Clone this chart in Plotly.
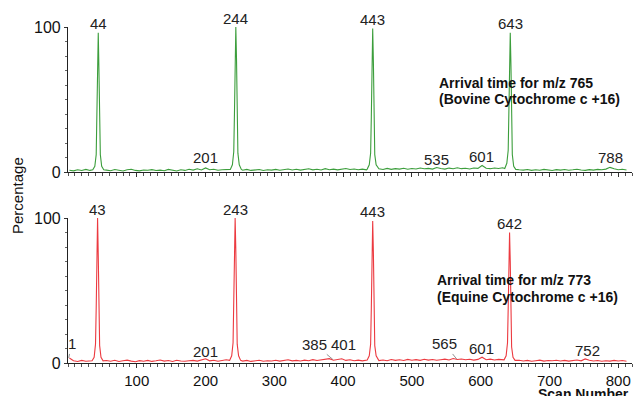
import plotly.graph_objects as go

# ---------------- data ----------------
GRID_START = 2
GRID_STEP = 6

# baseline readings (every 6 scans, starting at scan 2) - bovine, m/z 765
noise_top = [
    1.2, 0.8, 1.5, 1.0, 1.8, 1.1, 1.4, 1.0, 1.6, 1.3,
    0.9, 1.7, 1.2, 0.7, 1.5, 1.9, 1.1, 0.8, 1.4, 1.2,
    1.6, 1.0, 1.3, 0.9, 1.8, 1.2, 0.7, 1.5, 1.1, 1.9,
    1.3, 2.2, 1.4, 2.8, 1.6, 1.9, 1.2, 1.5, 1.8, 2.4,
    2.0, 1.5, 1.2, 1.8, 1.1, 1.4, 1.7, 1.0, 1.5, 1.3,
    1.8, 1.2, 1.6, 2.1, 1.4, 1.9, 1.3, 1.7, 2.2, 1.5,
    1.9, 1.4, 2.3, 1.6, 2.0, 1.5, 1.8, 2.4, 1.7, 2.1,
    1.6, 2.0, 1.5, 1.9, 1.4, 2.2, 1.7, 2.5, 1.8, 2.3,
    2.0, 2.6, 1.9, 2.4, 2.1, 2.8, 2.2, 2.5, 2.0, 3.1,
    2.4, 2.0, 2.7, 2.2, 2.9, 2.3, 2.6, 2.1, 2.8, 2.5,
    4.5, 2.6, 2.3, 2.8, 2.4, 2.9, 2.2, 2.6, 1.9, 1.5,
    1.3, 1.7, 1.1, 1.5, 1.2, 1.8, 1.4, 1.0, 1.6, 1.3,
    1.7, 1.2, 1.5, 1.9, 1.4, 1.1, 1.6, 1.3, 1.8, 1.5,
    2.0, 3.2, 2.2, 1.6, 1.9, 1.4,
]

# baseline readings - equine, m/z 773
noise_bottom = [
    3.5, 1.6, 1.0, 1.8, 1.2, 1.5, 0.9, 1.4, 1.1, 1.7,
    1.2, 1.9, 1.0, 1.5, 2.0, 1.3, 0.9, 1.6, 1.2, 1.8,
    1.1, 1.5, 2.1, 1.3, 1.7, 1.0, 1.9, 1.4, 1.2, 1.6,
    1.8, 1.3, 2.0, 2.9, 1.5, 1.9, 1.2, 1.7, 2.2, 2.6,
    2.0, 1.6, 1.3, 1.8, 1.1, 1.5, 1.9, 1.2, 1.6, 1.4,
    1.9, 1.3, 1.7, 2.2, 1.5, 1.8, 1.4, 2.0, 1.6, 2.3,
    1.7, 2.1, 2.6, 3.0, 1.9, 2.4, 2.9, 1.8, 2.2, 1.6,
    2.0, 1.5, 1.9, 1.4, 2.3, 1.7, 2.1, 1.6, 2.4, 1.8,
    2.2, 1.7, 2.5, 1.9, 2.3, 1.8, 2.6, 2.0, 2.4, 1.9,
    2.3, 2.7, 2.1, 3.1, 2.4, 2.8, 2.2, 2.6, 2.0, 2.5,
    4.0, 2.3, 2.7, 2.1, 2.5, 2.0, 2.4, 1.8, 1.5, 1.9,
    1.4, 1.8, 1.2, 1.6, 2.0, 1.3, 1.7, 1.5, 1.9, 1.4,
    1.8, 1.3, 1.6, 2.1, 1.5, 2.8, 1.9, 1.4, 1.7, 1.2,
    1.6, 1.3, 1.8, 1.4, 1.7, 1.2,
]

# arrival-time peaks (scan, percentage) - bovine
top_peaks_x = [
    [36, 39, 41, 42, 43, 44, 45, 46, 47, 49, 52],
    [236, 239, 241, 242, 243, 244, 245, 246, 247, 249, 252],
    [435, 438, 440, 441, 442, 443, 444, 445, 446, 448, 451],
    [635, 638, 640, 641, 642, 643, 644, 645, 646, 648, 651],
]
top_peaks_y = [
    [1.5, 4, 12, 35, 75, 96, 70, 32, 12, 4, 1.6],
    [1.8, 5, 14, 40, 82, 100, 78, 36, 13, 5, 1.8],
    [2.0, 5, 13, 38, 80, 99, 76, 34, 12, 5, 2.0],
    [2.4, 6, 15, 40, 78, 96, 74, 33, 12, 4, 1.8],
]
# arrival-time peaks - equine
bottom_peaks_x = [
    [35, 38, 40, 41, 42, 43, 44, 45, 46, 48, 51],
    [235, 238, 240, 241, 242, 243, 244, 245, 246, 248, 251],
    [435, 438, 440, 441, 442, 443, 444, 445, 446, 448, 451],
    [634, 637, 639, 640, 641, 642, 643, 644, 645, 647, 650],
]
bottom_peaks_y = [
    [1.6, 4, 13, 38, 80, 100, 74, 34, 12, 4, 1.5],
    [1.8, 5, 14, 40, 82, 100, 78, 36, 13, 5, 1.8],
    [2.0, 5, 13, 38, 80, 98, 76, 34, 12, 5, 2.0],
    [2.2, 5, 14, 38, 74, 90, 70, 30, 11, 4, 1.8],
]

top_major_labels = ["44", "244", "443", "643"]
bottom_major_labels = ["43", "243", "443", "642"]
top_minor_labels = ["201", "535", "601", "788"]
bottom_minor_labels = ["1", "201", "385", "401", "565", "601", "752"]

x_tick_vals = [100, 200, 300, 400, 500, 600, 700, 800]
y_tick_vals = [0, 100]

top_caption = ["Arrival time for m/z 765", "(Bovine Cytochrome c +16)"]
bottom_caption = ["Arrival time for m/z 773", "(Equine Cytochrome c +16)"]
x_title = "Scan Number"
y_title = "Percentage"


def build(noise, px_list, py_list):
    pts = [(GRID_START + GRID_STEP * i, v) for i, v in enumerate(noise)]
    for px, py in zip(px_list, py_list):
        lo, hi = px[0], px[-1]
        pts = [p for p in pts if not (lo <= p[0] <= hi)]
        pts += list(zip(px, py))
    pts.sort()
    return [p[0] for p in pts], [p[1] for p in pts]


tx, ty = build(noise_top, top_peaks_x, top_peaks_y)
bx, by = build(noise_bottom, bottom_peaks_x, bottom_peaks_y)

GREEN = "#3c9e3c"
RED = "#ec3a40"
FONT = "Arial, Liberation Sans, sans-serif"

fig = go.Figure()
fig.add_trace(go.Scatter(x=tx, y=ty, mode="lines", line=dict(color=GREEN, width=1.1),
                         xaxis="x2", yaxis="y2", hoverinfo="skip"))
fig.add_trace(go.Scatter(x=bx, y=by, mode="lines", line=dict(color=RED, width=1.1),
                         xaxis="x", yaxis="y", hoverinfo="skip"))

ann = []
lab_font = dict(family=FONT, size=15, color="#222")

# major peak labels
for labels, pxs, pys, xr, yr in [
    (top_major_labels, top_peaks_x, top_peaks_y, "x2", "y2"),
    (bottom_major_labels, bottom_peaks_x, bottom_peaks_y, "x", "y"),
]:
    for lab, px, py in zip(labels, pxs, pys):
        ann.append(dict(x=float(lab), y=max(py), xref=xr, yref=yr, text=lab,
                        showarrow=False, yanchor="middle", yshift=9, font=lab_font))

# minor labels: (xshift, yshift) or arrow offsets (ax, ay, tip value)
minor_style_top = {"201": (-1, 15), "535": (1, 13), "601": (0, 16), "788": (1, 15)}
minor_style_bottom = {"201": (-1, 12), "401": (0, 19), "601": (0, 15), "752": (2, 13)}
arrow_style_bottom = {"1": (3, -14, 3.5), "385": (-18, -15, 2.5), "565": (-12, -15, 2.8)}

for lab in top_minor_labels:
    xs, ys = minor_style_top[lab]
    ann.append(dict(x=float(lab), y=0, xref="x2", yref="y2", text=lab, showarrow=False,
                    yanchor="middle", xshift=xs, yshift=ys, font=lab_font))
for lab in bottom_minor_labels:
    if lab in arrow_style_bottom:
        ax, ay, tip = arrow_style_bottom[lab]
        ann.append(dict(x=float(lab), y=tip, xref="x", yref="y", text=lab, showarrow=True,
                        ax=ax, ay=ay, arrowhead=0, arrowwidth=0.8, arrowcolor="#777",
                        standoff=0, startstandoff=0, font=lab_font))
    else:
        xs, ys = minor_style_bottom[lab]
        ann.append(dict(x=float(lab), y=0, xref="x", yref="y", text=lab, showarrow=False,
                        yanchor="middle", xshift=xs, yshift=ys, font=lab_font))

cap_font = dict(family=FONT, size=14, color="#111")
L, T, B = 68, 27, 33
W, H = 636, 396
PH = H - T - B
PW = W - L - 4


def px_to_paper_x(p):
    return (p - L) / PW


def py_to_paper_y(p):
    return (H - B - p) / PH


for txt, yc in zip(top_caption, [83, 99]):
    ann.append(dict(x=px_to_paper_x(437), y=py_to_paper_y(yc), xref="paper", yref="paper",
                    text="<b>%s</b>" % txt, showarrow=False, xanchor="left",
                    yanchor="middle", font=cap_font))
for txt, yc in zip(bottom_caption, [280, 297]):
    ann.append(dict(x=px_to_paper_x(435), y=py_to_paper_y(yc), xref="paper", yref="paper",
                    text="<b>%s</b>" % txt, showarrow=False, xanchor="left",
                    yanchor="middle", font=cap_font))

ann.append(dict(x=px_to_paper_x(631), y=py_to_paper_y(394), xref="paper", yref="paper",
                text="<b>%s</b>" % x_title, showarrow=False, xanchor="right",
                yanchor="middle", font=dict(family=FONT, size=14, color="#111")))
ann.append(dict(x=px_to_paper_x(17), y=py_to_paper_y(196), xref="paper", yref="paper",
                text=y_title, showarrow=False, textangle=-90, xanchor="center",
                yanchor="middle", font=dict(family=FONT, size=15, color="#111")))

top_dom = [py_to_paper_y(172), 1.0]
bot_dom = [0.0, py_to_paper_y(218)]

xcommon = dict(range=[0, 820], showgrid=False, zeroline=False, showline=True,
               linecolor="#222", linewidth=1.2, ticks="outside", ticklen=4, tickwidth=1,
               tickcolor="#333", tickvals=x_tick_vals,
               minor=dict(ticks="outside", ticklen=2.5, dtick=10, tick0=0, tickcolor="#555"))
ycommon = dict(range=[0, 100], showgrid=False, zeroline=False, showline=True,
               linecolor="#222", linewidth=1.2, ticks="outside", ticklen=3,
               tickcolor="#333", tickvals=y_tick_vals,
               tickfont=dict(family=FONT, size=16, color="#111"),
               minor=dict(ticks="outside", ticklen=2, dtick=10, tick0=0, tickcolor="#666"))

fig.update_layout(
    width=W, height=H,
    margin=dict(l=L, r=4, t=T, b=B),
    paper_bgcolor="white", plot_bgcolor="white",
    showlegend=False,
    xaxis=dict(xcommon, anchor="y", tickfont=dict(family=FONT, size=15, color="#111")),
    xaxis2=dict(xcommon, anchor="y2", matches="x", showticklabels=False),
    yaxis=dict(ycommon, domain=bot_dom, anchor="x"),
    yaxis2=dict(ycommon, domain=top_dom, anchor="x2"),
    annotations=ann,
)

fig.write_html("out.html")
